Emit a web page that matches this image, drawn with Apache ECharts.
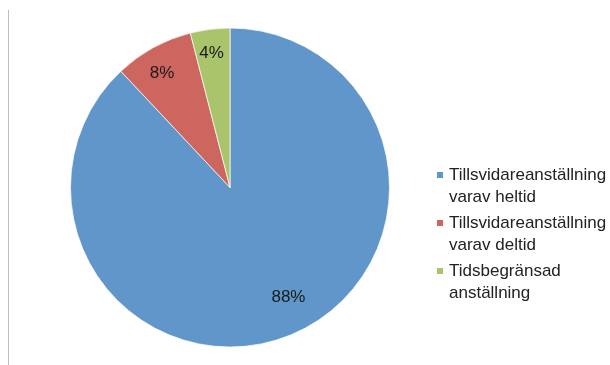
<!DOCTYPE html>
<html>
<head>
<meta charset="utf-8">
<script src="https://cdn.jsdelivr.net/npm/echarts@6/dist/echarts.min.js"></script>
<style>
  html, body { margin: 0; padding: 0; background: #fff; }
  #chart { width: 610px; height: 365px; }
</style>
</head>
<body>
<div id="chart"></div>
<script>
// Kategorier och andelar (procent)
var kategorier = ["Tillsvidareanställning varav heltid", "Tillsvidareanställning varav deltid", "Tidsbegränsad anställning"];
var legendText = ["Tillsvidareanställning\nvarav heltid", "Tillsvidareanställning\nvarav deltid", "Tidsbegränsad\nanställning"];
var andelar = [88, 8, 4];
var farger = ["#6096C9", "#CD665F", "#AAC46C"];

// Förskjutning av etiketterna (som i Excel)
var etikettFlytt = [[28, 33], [-28, -42], [-8, -52]];

var myChart = echarts.init(document.getElementById("chart"));

var option = {
    backgroundColor: "#fff",
    color: farger,
    textStyle: { fontFamily: "Liberation Sans, Arial, sans-serif" },
    graphic: [
        { type: "line", shape: { x1: 8.5, y1: 10, x2: 8.5, y2: 365 }, style: { stroke: "#bdbdbd", lineWidth: 1 } }
    ],
    legend: {
        orient: "vertical",
        left: 435,
        top: 142,
        padding: 0,
        itemWidth: 8,
        itemHeight: 8,
        itemGap: -18,
        icon: "rect",
        data: kategorier,
        // tom rad först så att rutan hamnar vid första textraden
        formatter: function (name) {
            return "\n" + legendText[kategorier.indexOf(name)];
        },
        textStyle: { fontSize: 17, color: "#222", lineHeight: 22 }
    },
    series: [
        {
            type: "pie",
            center: [230, 187.5],
            radius: 159.5,
            startAngle: 90,
            clockwise: true,
            silent: true,
            itemStyle: { borderColor: "#fff", borderWidth: 0.7 },
            label: {
                show: true,
                position: "inside",
                formatter: "{c}%",
                fontSize: 17,
                color: "#1a1a1a"
            },
            labelLine: { show: false },
            labelLayout: function (params) {
                var d = etikettFlytt[params.dataIndex];
                return { dx: d[0], dy: d[1] };
            },
            data: kategorier.map(function (k, i) {
                return { name: k, value: andelar[i] };
            })
        }
    ]
};

myChart.setOption(option);
</script>
</body>
</html>
